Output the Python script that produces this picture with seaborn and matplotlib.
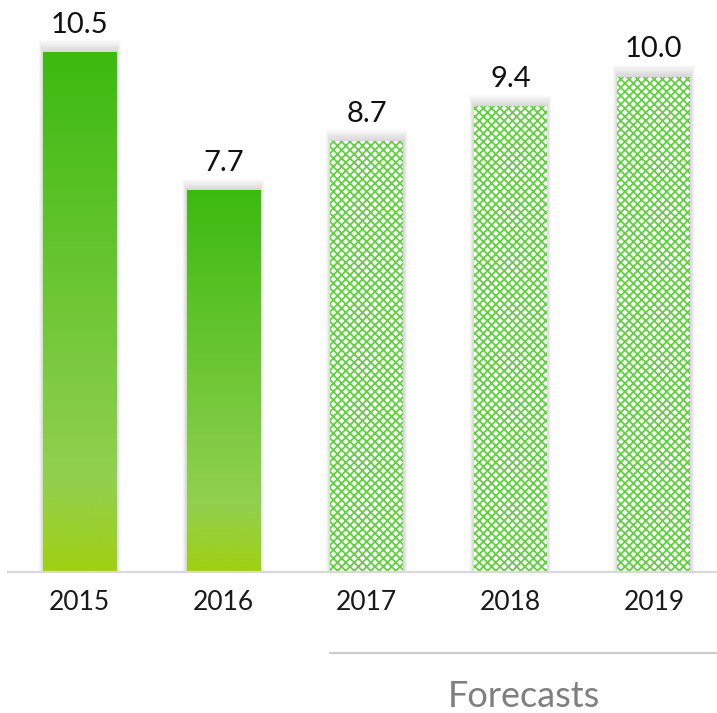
import numpy as np
import matplotlib
matplotlib.use('Agg')
import matplotlib.pyplot as plt
import matplotlib.transforms as mtransforms
from matplotlib.colors import LinearSegmentedColormap
import seaborn as sns

# data
years = ['2015', '2016', '2017', '2018', '2019']
values = [10.5, 7.7, 8.7, 9.4, 10.0]
is_forecast = [False, False, True, True, True]
value_labels = ['10.5', '7.7', '8.7', '9.4', '10.0']
forecast_label = 'Forecasts'

sns.set_style('white')
plt.rcParams['font.family'] = ['Lato', 'DejaVu Sans']
plt.rcParams['hatch.linewidth'] = 1.3

BAR_W = 0.51
fig = plt.figure(figsize=(7.17, 7.13), dpi=100)
ax = fig.add_axes([8 / 717, 141 / 713, 1 - 8 / 717, 572 / 713])

# soft grey glow above bars (stacked translucent layers)
xs = np.arange(len(values))
for k in range(1, 11):
    ax.bar(xs, np.array(values) + 0.024 * k, width=BAR_W + 0.006 * k,
           color='black', alpha=0.016, linewidth=0, zorder=1)

sns.barplot(x=years, y=values, width=BAR_W, color='white', ax=ax,
            saturation=1, zorder=2)

grad_cmap = LinearSegmentedColormap.from_list(
    'hist', [(0.0, '#a0d012'), (0.18, '#92d050'), (1.0, '#3cba10')])
grad = np.linspace(1, 0, 256).reshape(-1, 1)

bars = ax.containers[-1]
for patch, fc in zip(bars.patches, is_forecast):
    patch.set_linewidth(0)
    if fc:
        patch.set_facecolor('white')
        patch.set_hatch('xxxx')
        patch.set_edgecolor('#62cf42')
    else:
        x0 = patch.get_x()
        x1 = x0 + patch.get_width()
        h = patch.get_height()
        patch.set_facecolor('none')
        ax.imshow(grad, cmap=grad_cmap, extent=[x0, x1, 0, h],
                  aspect='auto', zorder=2, interpolation='bicubic')

for x, v, lab in zip(xs, values, value_labels):
    ax.annotate(lab, (x, v), xytext=(0, 14), textcoords='offset points',
                ha='center', va='baseline', fontsize=21, color='#111111')

ax.set_xlim(-0.5, 4.44)
ax.set_ylim(0, 11.55)
ax.set_yticks([])
ax.set_xlabel('')
ax.tick_params(axis='x', length=0, pad=13, labelsize=19, labelcolor='#1a1a1a')
sns.despine(ax=ax, left=True, top=True, right=True)
ax.spines['bottom'].set_color('#d9d9d9')
ax.spines['bottom'].set_linewidth(1.6)
ax.spines['bottom'].set_zorder(3)

# forecast bracket line and label
trans = mtransforms.blended_transform_factory(ax.transData, fig.transFigure)
line_x0 = 2 - BAR_W / 2
ax.plot([line_x0, 4.6], [60 / 713, 60 / 713], transform=trans,
        color='#cccccc', lw=1.6, clip_on=False)
ax.text((line_x0 + 4.44) / 2, 6 / 713, forecast_label, transform=trans,
        ha='center', va='baseline', fontsize=26, color='#7f7f7f')

fig.savefig('out.png', dpi=100)
